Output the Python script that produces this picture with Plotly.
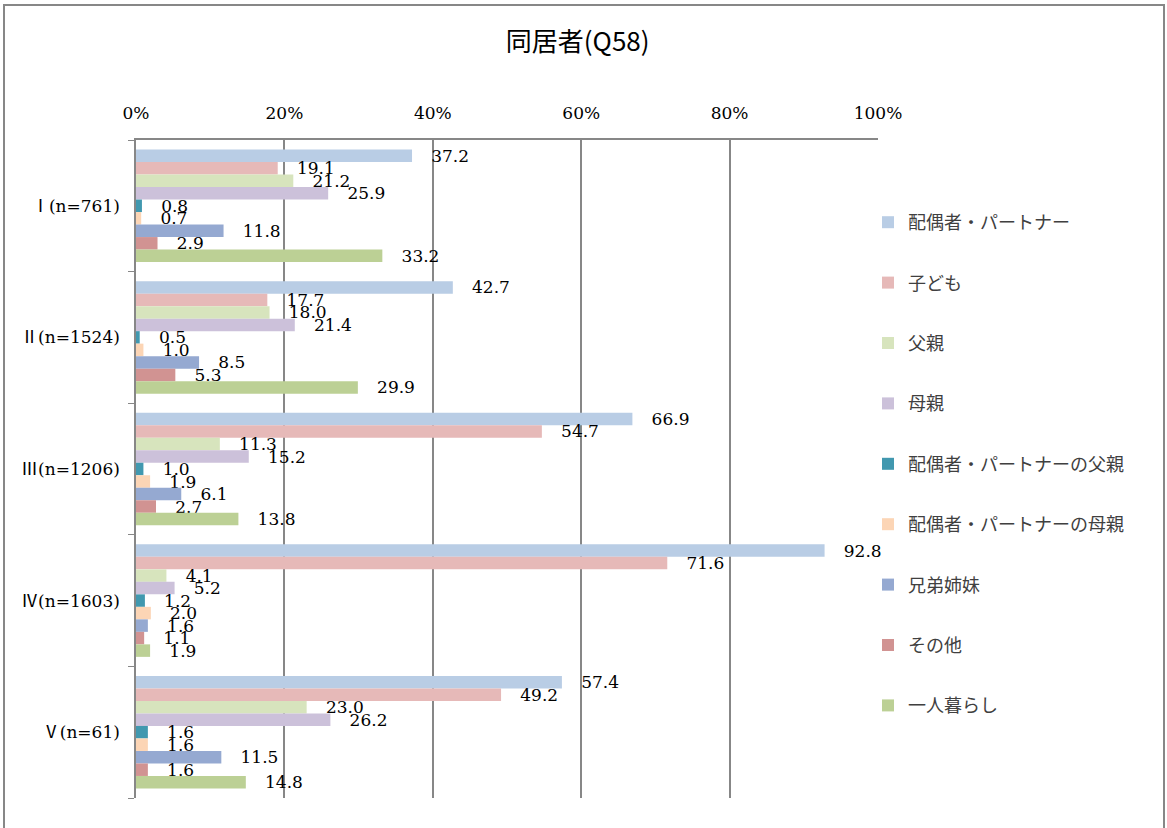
import plotly.graph_objects as go

categories = ["Ⅰ(n=761)", "Ⅱ(n=1524)", "Ⅲ(n=1206)", "Ⅳ(n=1603)", "Ⅴ(n=61)"]
series_names = ["配偶者・パートナー", "子ども", "父親", "母親", "配偶者・パートナーの父親",
                "配偶者・パートナーの母親", "兄弟姉妹", "その他", "一人暮らし"]
v_partner = [37.2, 42.7, 66.9, 92.8, 57.4]
v_child = [19.1, 17.7, 54.7, 71.6, 49.2]
v_father = [21.2, 18.0, 11.3, 4.1, 23.0]
v_mother = [25.9, 21.4, 15.2, 5.2, 26.2]
v_pfather = [0.8, 0.5, 1.0, 1.2, 1.6]
v_pmother = [0.7, 1.0, 1.9, 2.0, 1.6]
v_sibling = [11.8, 8.5, 6.1, 1.6, 11.5]
v_other = [2.9, 5.3, 2.7, 1.1, 1.6]
v_alone = [33.2, 29.9, 13.8, 1.9, 14.8]
series_values = [v_partner, v_child, v_father, v_mother, v_pfather, v_pmother, v_sibling, v_other, v_alone]
colors = ["#B9CDE5", "#E6B9B8", "#D7E4BD", "#CCC1DA", "#4198AF", "#FCD5B5", "#95A9D1", "#D19392", "#BCD095"]
x_ticks = [0, 20, 40, 60, 80, 100]
x_tick_labels = ["0%", "20%", "40%", "60%", "80%", "100%"]

SERIF = "DejaVu Serif, Noto Sans CJK JP, serif"
CJK = "Noto Sans CJK JP, sans-serif"

fig = go.Figure()
for i, (name, vals, col) in enumerate(zip(series_names, series_values, colors)):
    fig.add_trace(go.Bar(
        y=categories, x=vals, name=name, orientation="h",
        marker=dict(color=col, line=dict(width=0)),
        text=["   " + f"{v:.1f}" for v in vals], textposition="outside",
        textfont=dict(family=SERIF, size=17, color="#000000"),
        constraintext="none", cliponaxis=False,
        legendgroup=f"g{i}", hoverinfo="x+name",
    ))

y_tick_text = [f'<span style="font-family:Noto Sans CJK JP">{c[0]}</span>{c[1:]}' for c in categories]

L, R, T, B = 136, 289, 140, 30
fig.update_layout(
    width=1167, height=828,
    paper_bgcolor="white", plot_bgcolor="white",
    margin=dict(l=L, r=R, t=T, b=B, autoexpand=False),
    barmode="group", bargap=0.145, bargroupgap=0,
    title=dict(text="同居者(Q58)", x=0.495, xref="container", xanchor="center",
               y=1 - 42 / 828, yref="container", yanchor="middle",
               font=dict(family=CJK, size=26, color="#000000")),
    legend=dict(x=(868 - L) / (1167 - L - R), y=1 - (204 - T) / (828 - T - B), xanchor="left", yanchor="top",
                traceorder="grouped",
                font=dict(family=CJK, size=18, color="#404040"), tracegroupgap=34,
                itemwidth=30, bgcolor="rgba(0,0,0,0)"),
    showlegend=True,
)
fig.update_xaxes(side="top", range=[0, 100], tickvals=x_ticks, ticktext=x_tick_labels,
                 showgrid=True, gridcolor="#878787", gridwidth=1.5,
                 showline=True, linecolor="#878787", linewidth=1.5, mirror=False, automargin=False,
                 ticks="", tickfont=dict(family=SERIF, size=17, color="#000000"), zeroline=False,
                 ticklabelstandoff=12)
fig.update_yaxes(autorange="reversed", showline=True, linecolor="#878787", linewidth=1.5, automargin=False,
                 ticks="outside", tickson="boundaries", ticklen=6, tickcolor="#878787",
                 tickmode="array", tickvals=categories, ticktext=y_tick_text,
                 tickfont=dict(family=SERIF, size=17, color="#000000"), showgrid=False, ticklabelstandoff=11)

# outer chart border
W, H = 1167, 828
pw = W - L - R
ph = H - T - B
def px(xp): return (xp - L) / pw
def py(yp): return 1 - (yp - T) / ph
fig.add_shape(type="path", xref="paper", yref="paper",
              path=f"M {px(4)} {py(830)} L {px(4)} {py(5)} L {px(1164)} {py(5)} L {px(1164)} {py(830)}",
              line=dict(color="#878787", width=2))

fig.write_html("out.html", post_script="document.body.style.margin='0';",
               config={"displayModeBar": False})
